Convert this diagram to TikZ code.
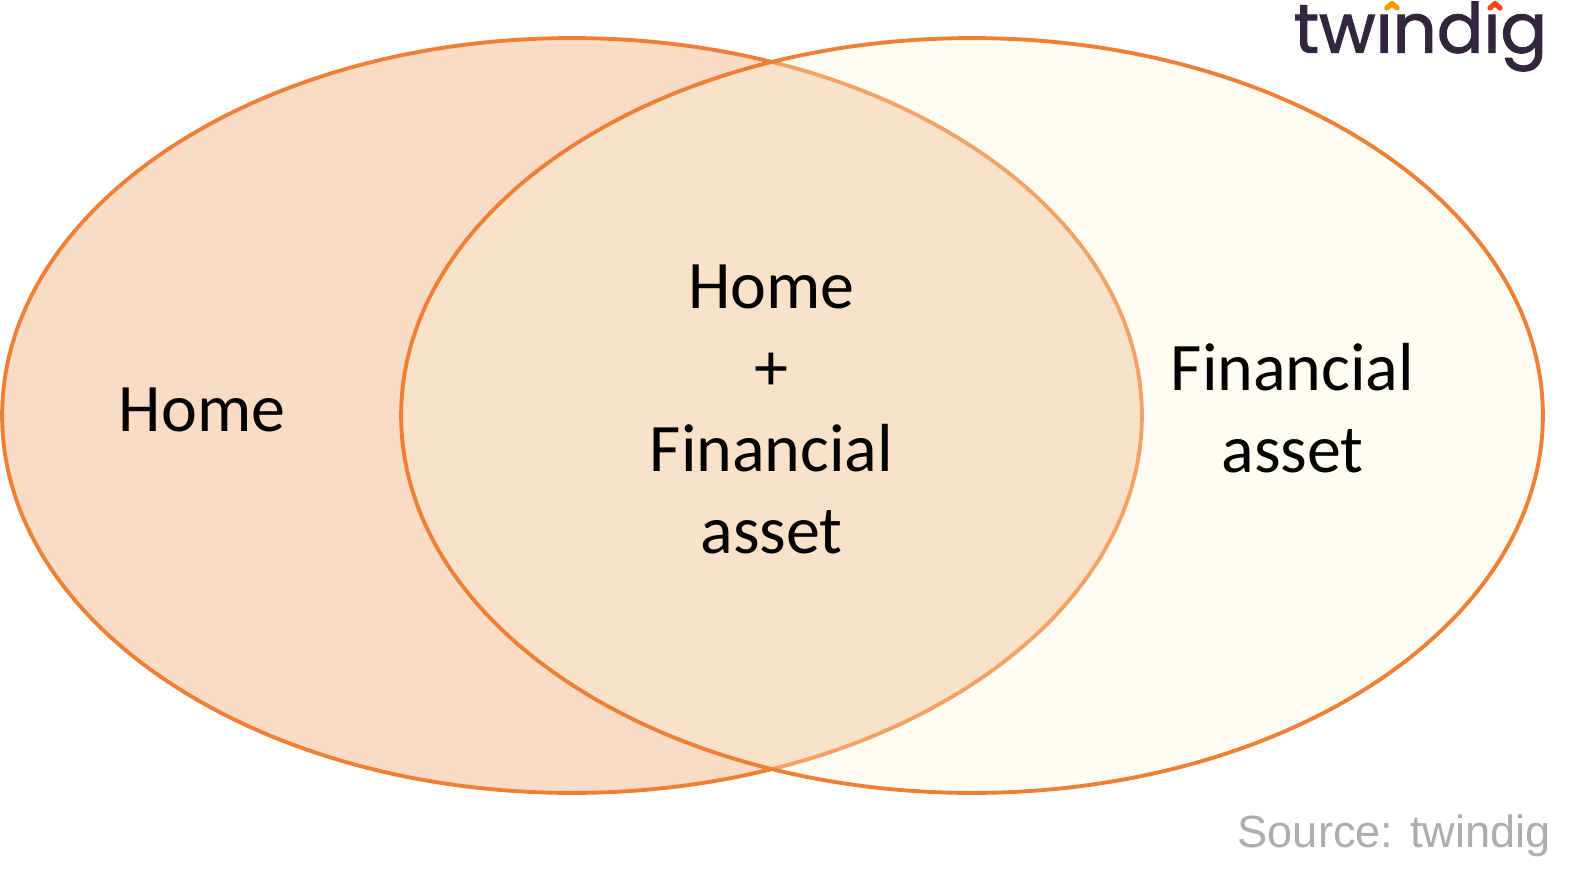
\documentclass[tikz,border=0pt]{standalone}
\usepackage{fontspec}
\usepackage{xcolor}
\usetikzlibrary{shapes,positioning,shapes.geometric}
\setmainfont{Carlito}
\newfontfamily\sourcefont{Liberation Sans}
\newfontfamily\logofont[FakeBold=1.5]{Poppins}
\definecolor{setline}{HTML}{EE7F35}
\definecolor{homefill}{HTML}{F9DBC6}
\definecolor{assetfill}{HTML}{FFF5D4}
\definecolor{logoink}{HTML}{32263F}
\definecolor{sourcegrey}{HTML}{ADABAB}

\begin{document}
\begin{tikzpicture}[x=0.02cm, y=-0.02cm]
    \tikzstyle{setbox} = [ellipse, inner sep=0pt, outer sep=0pt, minimum height=15.1cm, draw=setline, line width=2.2pt]
    \tikzstyle{label} = [align=center, inner sep=0pt, font=\fontsize{38.7}{46.4}\selectfont]
    \tikzstyle{caret} = [line width=3pt, line cap=round, line join=round]

    \useasboundingbox (0,0) rectangle (1578,886);

    \node (homeset) [setbox, minimum width=22.8cm, fill=homefill] at (572,415.5) {};
    \node (assetset) [setbox, minimum width=22.84cm, fill=assetfill, fill opacity=0.3] at (972,415.5) {};

    \node (homelabel) [label] at (202,409.5) {Home};
    \node (bothlabel) [label] at (771.5,409.5) {Home\\+\\Financial\\asset};
    \node (assetlabel) [label] at (1292.5,408) {Financial\\asset};

    \node (logo) [inner sep=0pt, anchor=east, font=\logofont\fontsize{39.3}{40}\selectfont, text=logoink] at (1547.5,36.5) {twındıg};
    \draw [caret, draw=orange!80!yellow] (1387,8) -- (1392,3.5) -- (1397,8);
    \draw [caret, draw=red!60!orange!90!white] (1490,8) -- (1495,3.5) -- (1500,8);

    \node (source) [inner sep=0pt, anchor=east, font=\sourcefont\fontsize{25.7}{30}\selectfont, text=sourcegrey] at (1551,836) {Source: twindig};
\end{tikzpicture}
\end{document}
